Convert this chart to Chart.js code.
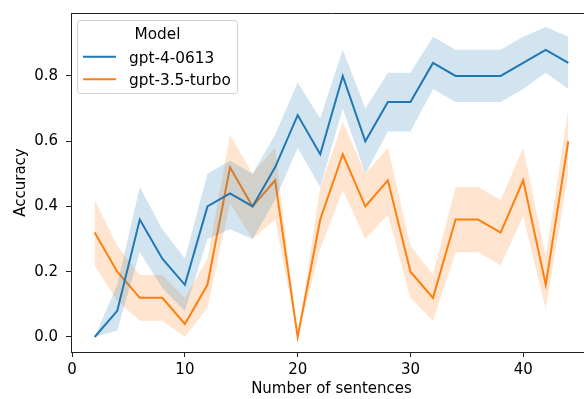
<!DOCTYPE html>
<html>
<head>
<meta charset="UTF-8">
<title>Accuracy vs number of sentences</title>
<style>
  html, body { margin: 0; padding: 0; background: #fff; overflow: hidden; }
  #wrap { width: 600px; height: 399px; }
</style>
</head>
<body>
<div id="wrap"><canvas id="chart" width="600" height="399"></canvas></div>
<script src="https://cdn.jsdelivr.net/npm/chart.js"></script>
<script>
// Số câu (trục x)
const sentences = [2, 4, 6, 8, 10, 12, 14, 16, 18, 20, 22, 24, 26, 28, 30, 32, 34, 36, 38, 40, 42, 44];

// gpt-4-0613
const gpt4Mean  = [0.00, 0.08, 0.36, 0.24, 0.16, 0.40, 0.44, 0.40, 0.52, 0.68, 0.56, 0.80, 0.60, 0.72, 0.72, 0.84, 0.80, 0.80, 0.80, 0.84, 0.88, 0.84];
const gpt4Upper = [0.00, 0.16, 0.46, 0.33, 0.24, 0.50, 0.54, 0.50, 0.62, 0.78, 0.67, 0.88, 0.70, 0.81, 0.81, 0.92, 0.88, 0.88, 0.88, 0.92, 0.95, 0.92];
const gpt4Lower = [0.00, 0.02, 0.26, 0.15, 0.08, 0.30, 0.33, 0.30, 0.42, 0.58, 0.46, 0.70, 0.50, 0.63, 0.63, 0.76, 0.72, 0.72, 0.72, 0.76, 0.81, 0.76];

// gpt-3.5-turbo
const gpt35Mean  = [0.32, 0.20, 0.12, 0.12, 0.04, 0.16, 0.52, 0.40, 0.48, 0.00, 0.36, 0.56, 0.40, 0.48, 0.20, 0.12, 0.36, 0.36, 0.32, 0.48, 0.16, 0.60];
const gpt35Upper = [0.42, 0.28, 0.19, 0.19, 0.12, 0.24, 0.62, 0.50, 0.58, 0.00, 0.46, 0.66, 0.50, 0.58, 0.28, 0.19, 0.46, 0.46, 0.42, 0.58, 0.245, 0.70];
const gpt35Lower = [0.22, 0.11, 0.05, 0.05, 0.00, 0.09, 0.41, 0.30, 0.36, 0.00, 0.27, 0.45, 0.30, 0.375, 0.12, 0.05, 0.26, 0.26, 0.22, 0.37, 0.085, 0.50];

const xTicks = [0, 10, 20, 30, 40];
const yTicks = [0.0, 0.2, 0.4, 0.6, 0.8];

const BLUE = '#1f77b4';
const ORANGE = '#ff7f0e';
const FONT = 'DejaVu Sans';
const FSIZE = 15;

const pts = arr => arr.map((v, i) => ({ x: sentences[i], y: v }));

const lineSet = (label, data, color) => ({
  label: label, data: pts(data), borderColor: color, borderWidth: 2,
  pointRadius: 0, fill: false, tension: 0, isLine: true
});
const bandSet = (data, color, fill) => ({
  label: '', data: pts(data), borderWidth: 0, borderColor: 'rgba(0,0,0,0)',
  backgroundColor: color, pointRadius: 0, fill: fill, tension: 0
});

// bỏ padding tự động của nhãn để vùng vẽ đúng vị trí
const noPad = s => { s.paddingTop = 0; s.paddingBottom = 0; s.paddingLeft = 0; s.paddingRight = 0; };

// Chú giải vẽ trong vùng biểu đồ, giống matplotlib
const legendPlugin = {
  id: 'boxLegend',
  afterDraw(chart) {
    const ctx = chart.ctx;
    const a = chart.chartArea;
    ctx.save();
    // viền trên
    ctx.strokeStyle = '#222';
    ctx.lineWidth = 1;
    ctx.beginPath();
    ctx.moveTo(a.left, a.top + 0.5);
    ctx.lineTo(a.right, a.top + 0.5);
    ctx.stroke();

    const x0 = 77.5, y0 = 20.5, w = 160, h = 73, r = 3;
    ctx.fillStyle = 'rgba(255,255,255,0.8)';
    ctx.strokeStyle = '#d0d0d0';
    ctx.beginPath();
    ctx.moveTo(x0 + r, y0);
    ctx.arcTo(x0 + w, y0, x0 + w, y0 + h, r);
    ctx.arcTo(x0 + w, y0 + h, x0, y0 + h, r);
    ctx.arcTo(x0, y0 + h, x0, y0, r);
    ctx.arcTo(x0, y0, x0 + w, y0, r);
    ctx.closePath();
    ctx.fill();
    ctx.stroke();

    ctx.fillStyle = '#000';
    ctx.font = '15.3px "' + FONT + '"';
    ctx.textBaseline = 'alphabetic';
    ctx.textAlign = 'center';
    ctx.fillText('Model', 157.5, 39);

    ctx.textAlign = 'left';
    const items = chart.data.datasets.filter(d => d.isLine);
    items.forEach((d, i) => {
      const y = 56.7 + i * 22.5;
      ctx.strokeStyle = d.borderColor;
      ctx.lineWidth = 2;
      ctx.beginPath();
      ctx.moveTo(83, y);
      ctx.lineTo(116, y);
      ctx.stroke();
      ctx.fillStyle = '#000';
      ctx.fillText(d.label, 129, y + 6);
    });
    ctx.restore();
  }
};

new Chart(document.getElementById('chart'), {
  type: 'line',
  data: {
    datasets: [
      lineSet('gpt-4-0613', gpt4Mean, BLUE),
      bandSet(gpt4Upper, 'rgba(31,119,180,0.2)', '+1'),
      bandSet(gpt4Lower, 'rgba(31,119,180,0.2)', false),
      lineSet('gpt-3.5-turbo', gpt35Mean, ORANGE),
      bandSet(gpt35Upper, 'rgba(255,127,14,0.2)', '+1'),
      bandSet(gpt35Lower, 'rgba(255,127,14,0.2)', false)
    ]
  },
  options: {
    responsive: false,
    animation: false,
    events: [],
    layout: { padding: { left: 0, right: 8, top: 13, bottom: 0 } },
    plugins: { legend: { display: false }, tooltip: { enabled: false } },
    scales: {
      x: {
        type: 'linear', min: -0.1, max: 46.1,
        afterBuildTicks: s => { s.ticks = xTicks.map(v => ({ value: v })); },
        afterFit: s => { s.height = 47; noPad(s); },
        grid: { drawOnChartArea: false, drawTicks: true, tickLength: 5, color: '#222' },
        border: { display: true, color: '#222', width: 1 },
        ticks: { color: '#000', padding: 4, maxRotation: 0, font: { family: FONT, size: FSIZE } },
        title: { display: true, text: 'Number of sentences', color: '#000', padding: { top: 0, bottom: 1 }, font: { family: FONT, size: FSIZE } }
      },
      y: {
        type: 'linear', min: -0.046, max: 0.993,
        afterBuildTicks: s => { s.ticks = yTicks.map(v => ({ value: v })); },
        afterFit: s => { s.width = 71; noPad(s); },
        grid: { drawOnChartArea: false, drawTicks: true, tickLength: 5, color: '#222' },
        border: { display: true, color: '#222', width: 1 },
        ticks: { color: '#000', padding: 8, callback: v => Number(v).toFixed(1), font: { family: FONT, size: FSIZE } },
        title: { display: true, text: 'Accuracy', color: '#000', padding: { top: 12, bottom: 0 }, font: { family: FONT, size: FSIZE } }
      }
    }
  },
  plugins: [legendPlugin]
});
</script>
</body>
</html>
